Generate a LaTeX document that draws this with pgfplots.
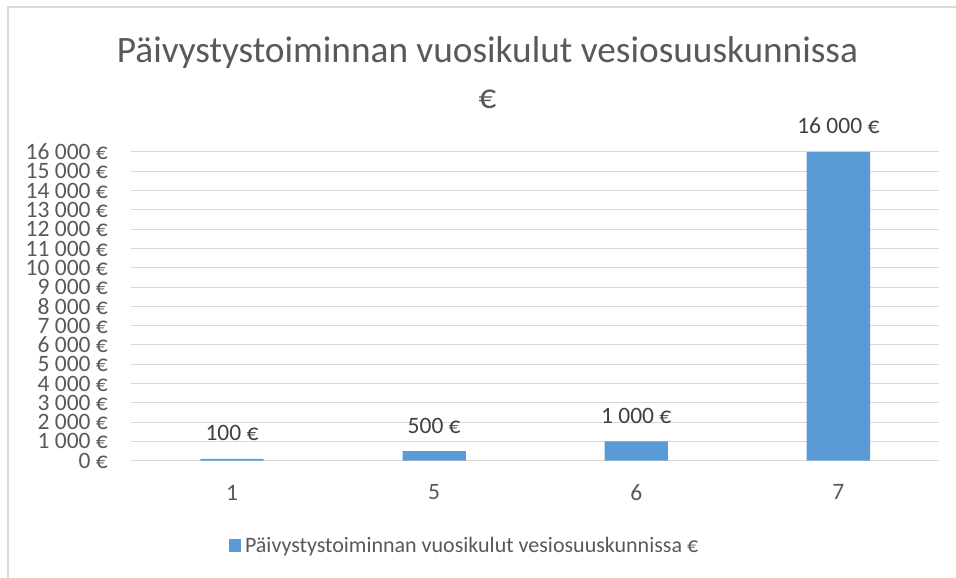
\documentclass[border=0pt]{standalone}
\usepackage{pgfplots}
\pgfplotsset{compat=1.18}
\usepackage{fontspec}
\setmainfont{Carlito}
\definecolor{barblue}{HTML}{5B9BD5}
\definecolor{txtgray}{HTML}{595959}
\definecolor{lblgray}{HTML}{404040}
\definecolor{gridgray}{HTML}{D9D9D9}
\begin{document}
\begin{tikzpicture}[x=1pt,y=1pt]
\useasboundingbox (0,0) rectangle (956,578);
\fill[white] (0,0) rectangle (956,578);
\draw[gridgray, line width=1.2pt] (8,0) -- (8,571) -- (956,571);
\node[anchor=base, text=txtgray, inner sep=0pt, font=\fontsize{37.3}{44}\selectfont] at (487.5,515.3) {Päivystystoiminnan vuosikulut vesiosuuskunnissa};
\node[anchor=base, text=txtgray, inner sep=0pt, font=\fontsize{35}{42}\selectfont] at (487.5,469.5) {€};
\begin{axis}[
  at={(131pt,117.3pt)}, anchor=south west,
  scale only axis, width=808.4pt, height=308.7pt,
  xmin=-0.5, xmax=3.5, ymin=0, ymax=16000,
  scaled y ticks=false,
  ybar, bar width=63.3pt,
  axis line style={draw=none},
  major tick length=0pt,
  ymajorgrids, grid style={gridgray, line width=1pt},
  xtick={0,1,2,3}, xticklabels={1,5,6,7},
  ytick={0,1000,...,16000},
  yticklabels={0~€,1~000~€,2~000~€,3~000~€,4~000~€,5~000~€,6~000~€,7~000~€,8~000~€,9~000~€,10~000~€,11~000~€,12~000~€,13~000~€,14~000~€,15~000~€,16~000~€},
  yticklabel style={anchor=east, inner sep=0pt, xshift=-23pt, text=txtgray, font=\fontsize{23.5}{26}\selectfont},
  xticklabel style={anchor=north, inner sep=0pt, yshift=-24pt, text=txtgray, font=\fontsize{23.5}{26}\selectfont},
  point meta=explicit symbolic,
  nodes near coords,
  every node near coord/.append style={anchor=base, inner sep=0pt, yshift=18pt, text=lblgray, font=\fontsize{23.5}{26}\selectfont},
  legend style={at={(axis description cs:0.4125,-0.2747)}, anchor=center, draw=none, fill=none, inner sep=0pt, text=txtgray, font=\fontsize{22}{26}\selectfont, /tikz/every even column/.append style={column sep=0pt}},
  legend image code/.code={\fill[barblue] (0pt,-6.2pt) rectangle (12.4pt,6.2pt);},
  legend cell align=left,
]
\addplot[fill=barblue, draw=none, bar shift=0pt] coordinates {(0,100) [100~€] (1,500) [500~€] (2,1000) [1~000~€] (3,16000) [16~000~€]};
\addlegendentry{\hspace{2pt}Päivystystoiminnan vuosikulut vesiosuuskunnissa €}
\end{axis}
\end{tikzpicture}
\end{document}
